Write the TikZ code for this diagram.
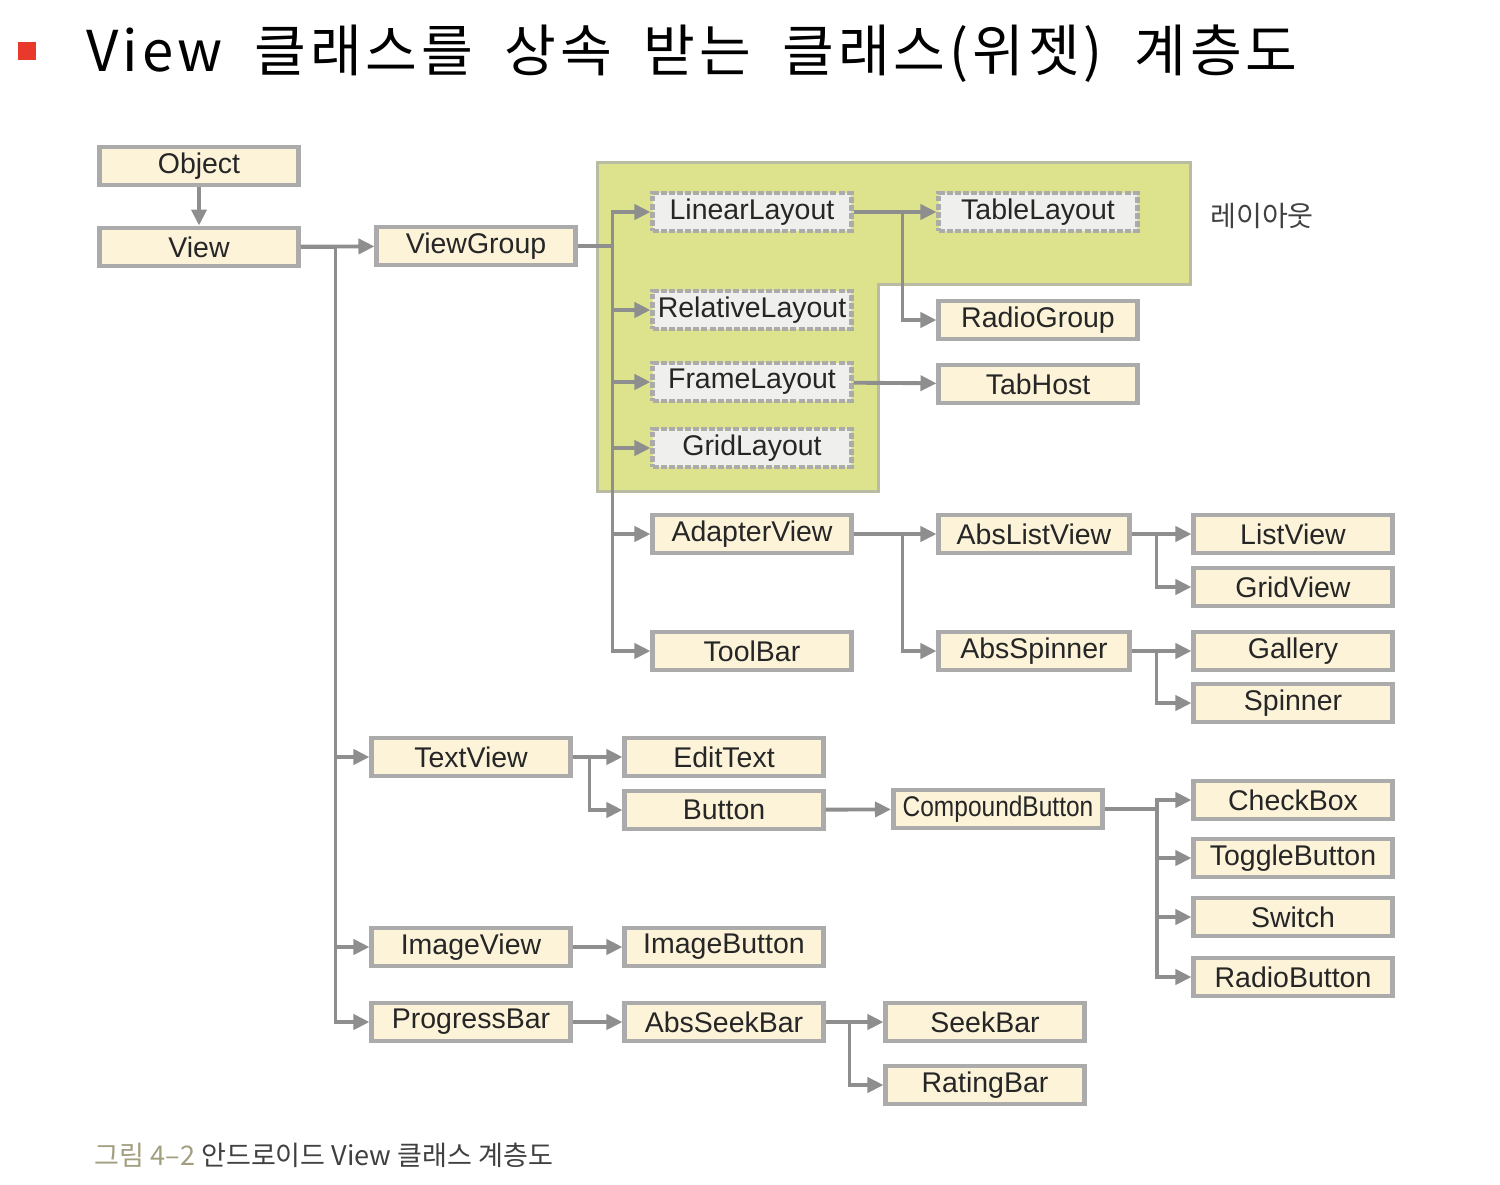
\documentclass[tikz,border=0pt]{standalone}
\usepackage{fontspec}
\setmainfont{Liberation Sans}
\newfontfamily\krfont{Noto Sans CJK KR}
\newfontfamily\titlefont[LetterSpace=7, WordSpace=1.9]{Noto Sans CJK KR}
\usepackage{tikz}
\usetikzlibrary{arrows.meta}
\usetikzlibrary{positioning}
\definecolor{boxfill}{HTML}{FCF3D9}
\definecolor{boxline}{HTML}{ABABAB}
\definecolor{layoutfill}{HTML}{DCE38C}
\definecolor{layoutline}{HTML}{B9BBA2}
\definecolor{dashfill}{HTML}{EFEFED}
\definecolor{wire}{HTML}{8E8E8E}
\definecolor{captgray}{HTML}{A29E80}
\definecolor{bulletred}{HTML}{E8392A}
\tikzstyle{every node}+=[inner sep=0pt]
\tikzstyle{cls}=[draw=boxline, line width=1.4pt, fill=boxfill, minimum width=1.98cm, minimum height=0.38cm, text=black!85, font=\fontsize{8.1}{9}\selectfont]
\tikzstyle{lay}=[cls, fill=dashfill, dash pattern=on 1.7pt off 0.6pt]
\tikzstyle{inh}=[draw=wire, line width=1.1pt, -{Triangle[length=0.16cm,width=0.15cm]}]

\begin{document}
\begin{tikzpicture}[x=0.01cm, y=-0.01cm]
        \useasboundingbox (0,0) rectangle (1500,1184);
        % title and caption
        \node[fill=bulletred, minimum size=0.18cm] (bullet) at (27,51) {};
        \node[anchor=west, font=\titlefont\fontsize{16}{18}\selectfont] (title) at (86,54) {View 클래스를 상속 받는 클래스(위젯) 계층도};
        \node[anchor=west, text=black!75, font=\krfont\fontsize{7.7}{9}\selectfont] (caption) at (94,1155) {\textcolor{captgray}{그림 4–2} 안드로이드 View 클래스 계층도};
        % layout area
        \draw[draw=layoutline, line width=0.85pt, fill=layoutfill] (597,162) -- (1190,162) -- (1190,284) -- (878,284) -- (878,491) -- (597,491) -- cycle;
        \node[text=black!75, font=\krfont\fontsize{8}{10}\selectfont] (laylabel) at (1262,216) {레이아웃};
        % classes
        \node[cls] (Object) at (199,166) {Object};
        \node[cls] (View) at (199,247) {View};
        \node[cls] (ViewGroup) at (476,246) {ViewGroup};
        \node[lay] (LinearLayout) at (752,212) {LinearLayout};
        \node[lay] (TableLayout) at (1038,212) {TableLayout};
        \node[lay] (RelativeLayout) at (752,310) {RelativeLayout};
        \node[lay] (FrameLayout) at (752,382) {FrameLayout};
        \node[lay] (GridLayout) at (752,448) {GridLayout};
        \node[cls] (RadioGroup) at (1038,320) {RadioGroup};
        \node[cls] (TabHost) at (1038,384) {TabHost};
        \node[cls] (AdapterView) at (752,534) {AdapterView};
        \node[cls] (ToolBar) at (752,651) {ToolBar};
        \node[cls, minimum width=1.90cm] (AbsListView) at (1034,534) {AbsListView};
        \node[cls, minimum width=1.90cm] (AbsSpinner) at (1034,651) {AbsSpinner};
        \node[cls] (ListView) at (1293,534) {ListView};
        \node[cls] (GridView) at (1293,587) {GridView};
        \node[cls] (Gallery) at (1293,651) {Gallery};
        \node[cls] (Spinner) at (1293,703) {Spinner};
        \node[cls] (TextView) at (471,757) {TextView};
        \node[cls] (EditText) at (724,757) {EditText};
        \node[cls] (Button) at (724,810) {Button};
        \node[cls, minimum width=2.09cm] (CompoundButton) at (998,809) {\scalebox{0.86}[1]{CompoundButton}};
        \node[cls] (CheckBox) at (1293,800) {CheckBox};
        \node[cls] (ToggleButton) at (1293,858) {ToggleButton};
        \node[cls] (Switch) at (1293,917) {Switch};
        \node[cls] (RadioButton) at (1293,977) {RadioButton};
        \node[cls] (ImageView) at (471,947) {ImageView};
        \node[cls] (ImageButton) at (724,947) {ImageButton};
        \node[cls] (ProgressBar) at (471,1022) {ProgressBar};
        \node[cls] (AbsSeekBar) at (724,1022) {AbsSeekBar};
        \node[cls] (SeekBar) at (985,1022) {SeekBar};
        \node[cls] (RatingBar) at (985,1085) {RatingBar};
        % inheritance
        \draw[inh] (Object) -- (View);
        \draw[inh] (View) -- (ViewGroup);
        \foreach \c in {TextView, ImageView, ProgressBar}
            \draw[inh] (View.east) -- ++(35,0) |- (\c.west);
        \foreach \c in {LinearLayout, RelativeLayout, FrameLayout, GridLayout, AdapterView, ToolBar}
            \draw[inh] (ViewGroup.east) -- ++(35,0) |- (\c.west);
        \draw[inh] (LinearLayout) -- (TableLayout);
        \draw[inh] (LinearLayout.east) -- ++(49,0) |- (RadioGroup.west);
        \draw[inh] (FrameLayout) -- (TabHost);
        \draw[inh] (AdapterView) -- (AbsListView);
        \draw[inh] (AdapterView.east) -- ++(49,0) |- (AbsSpinner.west);
        \draw[inh] (AbsListView) -- (ListView);
        \draw[inh] (AbsListView.east) -- ++(25,0) |- (GridView.west);
        \draw[inh] (AbsSpinner) -- (Gallery);
        \draw[inh] (AbsSpinner.east) -- ++(25,0) |- (Spinner.west);
        \draw[inh] (TextView) -- (EditText);
        \draw[inh] (TextView.east) -- ++(17,0) |- (Button.west);
        \draw[inh] (Button) -- (CompoundButton);
        \foreach \c in {CheckBox, ToggleButton, Switch, RadioButton}
            \draw[inh] (CompoundButton.east) -- ++(52,0) |- (\c.west);
        \draw[inh] (ImageView) -- (ImageButton);
        \draw[inh] (ProgressBar) -- (AbsSeekBar);
        \draw[inh] (AbsSeekBar) -- (SeekBar);
        \draw[inh] (AbsSeekBar.east) -- ++(24,0) |- (RatingBar.west);
\end{tikzpicture}
\end{document}
